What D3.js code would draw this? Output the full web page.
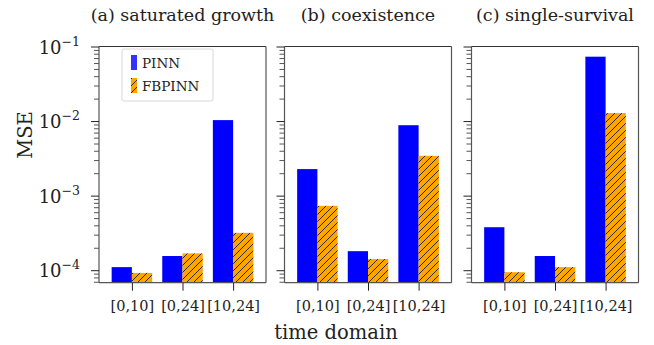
<!doctype html>
<html>
  <head>
    <script src="https://cdnjs.cloudflare.com/ajax/libs/d3/7.8.5/d3.min.js"></script>
  <style>
    body { margin: 0; background: #fff; }
    path.domain { stroke: none; }
    text { font-family: "DejaVu Serif", serif; fill: #222; }
  </style>
  </head>
  <body>
    <svg id="chart" width="654" height="345"></svg>
    <script>
      // values
      var domains = ["[0,10]", "[0,24]", "[10,24]"];
      var panelTitles = ["(a) saturated growth", "(b) coexistence", "(c) single-survival"];
      var pinnMSE = [
        [1.10e-4, 1.55e-4, 1.03e-2],
        [2.27e-3, 1.80e-4, 8.8e-3],
        [3.77e-4, 1.55e-4, 7.3e-2]
      ];
      var fbpinnMSE = [
        [9.2e-5, 1.68e-4, 3.17e-4],
        [7.3e-4, 1.41e-4, 3.42e-3],
        [9.4e-5, 1.10e-4, 1.28e-2]
      ];
      var majorTicks = [1e-4, 1e-3, 1e-2, 1e-1];
      var majorExps = ["−4", "−3", "−2", "−1"];
      var seriesNames = ["PINN", "FBPINN"];

      var svg = d3.select("#chart");
      var panelLeft = [99, 284.5, 471.5];
      var panelW = 167, plotTop = 46.5, plotBottom = 282.7;

      var defs = svg.append("defs");
      var hs = 7;
      var pat = defs.append("pattern")
        .attr("id", "hatch")
        .attr("patternUnits", "userSpaceOnUse")
        .attr("width", hs).attr("height", hs);
      pat.append("rect").attr("width", hs).attr("height", hs).attr("fill", "#ffa500");
      pat.append("path")
        .attr("d", "M-1," + (hs + 1) + " L" + (hs + 1) + ",-1 M-1,1 L1,-1 M" + (hs - 1) + "," + (hs + 1) + " L" + (hs + 1) + "," + (hs - 1))
        .attr("stroke", "#1a1a1a").attr("stroke-width", 0.9);

      var yScale = d3.scaleLog().domain([6.8e-5, 0.1]).range([plotBottom, plotTop]);

      var minorTicks = [];
      [1e-5, 1e-4, 1e-3, 1e-2].forEach(function(b) {
        for (var k = 2; k <= 9; k++) {
          var v = b * k;
          if (v >= 6.8e-5 && v < 0.1) minorTicks.push(v);
        }
      });

      panelLeft.forEach(function(x0, p) {
        var xScale = d3.scaleLinear().domain([-0.65, 2.65]).range([x0, x0 + panelW]);
        var g = svg.append("g");
        var bw = xScale(0.4) - xScale(0);

        g.selectAll("rect.pinn")
          .data(pinnMSE[p])
          .enter()
          .append("rect")
            .attr("class", "pinn")
            .attr("x", (d, i) => xScale(i - 0.4))
            .attr("width", bw)
            .attr("y", d => yScale(d))
            .attr("height", d => plotBottom - yScale(d))
            .attr("fill", "#0000ff");

        g.selectAll("rect.fbpinn")
          .data(fbpinnMSE[p])
          .enter()
          .append("rect")
            .attr("class", "fbpinn")
            .attr("x", (d, i) => xScale(i))
            .attr("width", bw)
            .attr("y", d => yScale(d))
            .attr("height", d => plotBottom - yScale(d))
            .attr("fill", "url(#hatch)");

        // spines
        g.append("line").attr("x1", x0).attr("x2", x0 + panelW).attr("y1", plotTop).attr("y2", plotTop)
          .attr("stroke", "#333").attr("stroke-width", 1);
        g.append("line").attr("x1", x0 + panelW).attr("x2", x0 + panelW).attr("y1", plotTop).attr("y2", plotBottom)
          .attr("stroke", "#555").attr("stroke-width", 1.2);
        g.append("line").attr("x1", x0).attr("x2", x0).attr("y1", plotTop).attr("y2", plotBottom)
          .attr("stroke", "#555").attr("stroke-width", 1.2);
        g.append("line").attr("x1", x0).attr("x2", x0 + panelW).attr("y1", plotBottom).attr("y2", plotBottom)
          .attr("stroke", "#555").attr("stroke-width", 1.2);

        // y ticks
        var yMinor = d3.axisLeft(yScale).tickValues(minorTicks).tickSize(5).tickFormat("");
        g.append("g").attr("transform", "translate(" + x0 + ",0)").call(yMinor)
          .selectAll(".tick line").attr("stroke", "#555");
        var yMajor = d3.axisLeft(yScale).tickValues(majorTicks).tickSize(8).tickFormat("");
        g.append("g").attr("transform", "translate(" + x0 + ",0)").call(yMajor)
          .selectAll(".tick line").attr("stroke", "#222");

        if (p === 0) {
          majorTicks.forEach(function(v, i) {
            var t = g.append("text")
              .attr("x", x0 - 19)
              .attr("y", yScale(v) + 7)
              .attr("text-anchor", "end")
              .style("font-size", "18px");
            t.append("tspan").text("10");
            t.append("tspan").attr("dy", -8).style("font-size", "12.5px").text(majorExps[i]);
          });
        }

        // x ticks
        var xAxis = d3.axisBottom(xScale)
          .tickValues([0, 1, 2])
          .tickSize(8)
          .tickFormat(i => domains[i]);
        var xg = g.append("g").attr("transform", "translate(0," + plotBottom + ")").call(xAxis);
        xg.selectAll(".tick line").attr("stroke", "#222");
        xg.selectAll(".tick text")
          .attr("y", 18)
          .style("font-size", "14.5px")
          .style("font-family", "DejaVu Serif, serif")
          .attr("fill", "#222");

        g.append("text")
          .attr("x", x0 + panelW / 2)
          .attr("y", 21)
          .attr("text-anchor", "middle")
          .style("font-size", "17.5px")
          .text(panelTitles[p]);
      });

      // legend
      var lg = svg.append("g");
      lg.append("rect")
        .attr("x", 122).attr("y", 49).attr("width", 91).attr("height", 52)
        .attr("rx", 2).attr("fill", "#fff").attr("stroke", "#d8d8d8");
      lg.append("rect").attr("x", 131).attr("y", 55).attr("width", 6).attr("height", 15).attr("fill", "#3333ff");
      lg.append("rect").attr("x", 131).attr("y", 78).attr("width", 6).attr("height", 15).attr("fill", "url(#hatch)");
      seriesNames.forEach(function(s, i) {
        lg.append("text")
          .attr("x", 142).attr("y", 68 + i * 23)
          .style("font-size", "13.5px")
          .text(s);
      });

      svg.append("text")
        .attr("x", 336).attr("y", 339)
        .attr("text-anchor", "middle")
        .style("font-size", "19.5px")
        .text("time domain");

      svg.append("text")
        .attr("transform", "translate(32,135) rotate(-90)")
        .attr("text-anchor", "middle")
        .style("font-size", "19.5px")
        .text("MSE");
    </script>
  </body>
</html>
